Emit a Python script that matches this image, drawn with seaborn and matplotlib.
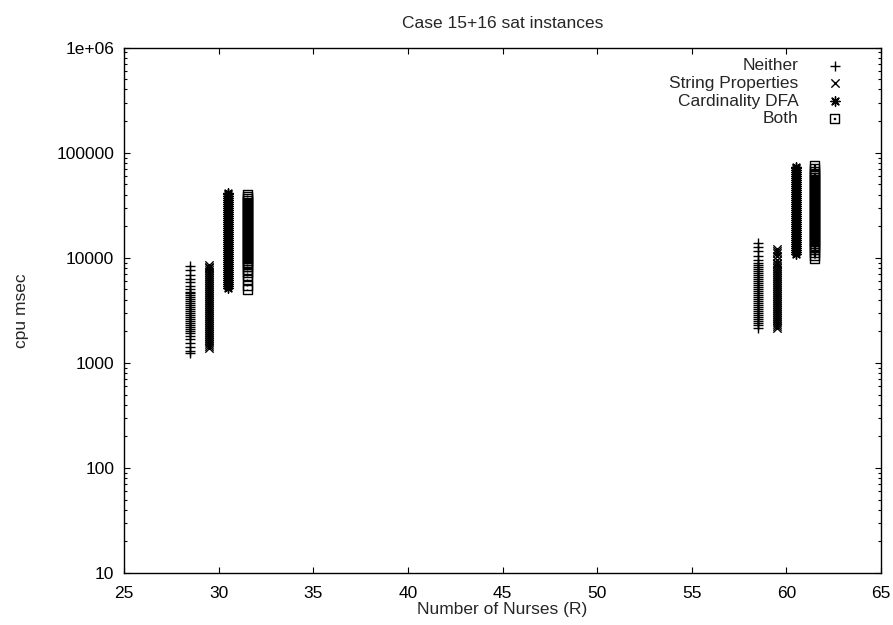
import pandas as pd
import matplotlib
matplotlib.use("Agg")
import matplotlib.pyplot as plt
import matplotlib.ticker as mticker
from matplotlib.path import Path
import seaborn as sns

# cpu msec per run; each method has a low-R and a high-R group
methods = ["Neither", "String Properties", "Cardinality DFA", "Both"]

neither_x = [28.5, 58.5]
neither_y = [
    [1240, 1300, 1420, 1560, 1700, 1820, 1920, 2010, 2100, 2190, 2290, 2390, 2500, 2610, 2730, 2850,
     2980, 3110, 3250, 3400, 3550, 3710, 3880, 4050, 4230, 4420, 4620, 4730, 5000, 5400, 5900, 6300,
     6900, 7600, 8360],
    [2150, 2290, 2390, 2500, 2610, 2730, 2850, 2980, 3110, 3250, 3400, 3550, 3710, 3880, 4050, 4230,
     4420, 4620, 4830, 5050, 5270, 5510, 5760, 6020, 6290, 6570, 6870, 7180, 7500, 7840, 8190, 8560,
     8930, 9600, 10500, 11600, 12800, 13800],
]

string_x = [29.5, 59.5]
string_y = [
    [1390, 1450, 1510, 1580, 1650, 1720, 1800, 1880, 1960, 2050, 2140, 2240, 2340, 2440, 2550, 2660,
     2780, 2900, 3030, 3170, 3310, 3460, 3610, 3770, 3940, 4120, 4300, 4490, 4690, 4900, 5120, 5350,
     5590, 5840, 6100, 6370, 6650, 6950, 7260, 7590, 7930, 8200, 8500],
    [2170, 2250, 2350, 2450, 2560, 2680, 2800, 2920, 3050, 3190, 3330, 3480, 3640, 3800, 3970, 4150,
     4340, 4530, 4740, 4950, 5170, 5400, 5650, 5900, 6170, 6440, 6730, 7040, 7350, 7680, 8030, 8390,
     8770, 8930, 9600, 10300, 11000, 11600, 12100],
]

card_x = [30.5, 60.5]
card_y = [
    [5160, 5400, 5640, 5890, 6150, 6430, 6720, 7020, 7330, 7660, 8000, 8360, 8740, 9130, 9540, 9970,
     10400, 10900, 11400, 11900, 12400, 13000, 13600, 14200, 14800, 15500, 16200, 16900, 17700, 18500,
     19300, 20200, 21100, 22000, 23000, 24000, 25100, 26200, 27400, 28600, 29900, 31200, 32600, 34100,
     35600, 37200, 38900, 40600, 41400],
    [10900, 11400, 11900, 12400, 13000, 13600, 14200, 14800, 15500, 16200, 16900, 17700, 18500, 19300,
     20200, 21100, 22000, 23000, 24000, 25100, 26200, 27400, 28600, 29900, 31200, 32600, 34100, 35600,
     37200, 38900, 40600, 42400, 44300, 46300, 48400, 50600, 52900, 55300, 57800, 60400, 63100, 65900,
     68900, 72000, 73100],
]

both_x = [31.5, 61.5]
both_y = [
    [5000, 5500, 6200, 6800, 7300, 7800, 8200, 8600, 9000, 9400, 9800, 10200, 10700, 11200, 11700,
     12200, 12700, 13300, 13900, 14500, 15200, 15900, 16600, 17300, 18100, 18900, 19800, 20700, 21600,
     22600, 23600, 24700, 25800, 26900, 28100, 29400, 30700, 32100, 33500, 35000, 36600, 38300, 40000],
    [9950, 10500, 11200, 11900, 12500, 13100, 13700, 14300, 15000, 15700, 16400, 17100, 17900, 18700,
     19500, 20400, 21300, 22300, 23300, 24300, 25400, 26500, 27700, 29000, 30300, 31600, 33000, 34500,
     36100, 37700, 39400, 41200, 43000, 45000, 47000, 49100, 51300, 53600, 56000, 58500, 61200, 64000,
     67000, 71000, 75000],
]

ytick_vals = [10, 100, 1000, 10000, 100000, 1000000]
ytick_labels = ["10", "100", "1000", "10000", "100000", "1e+06"]

sns.set_style("ticks")
plt.rcParams["font.family"] = ["Liberation Sans", "DejaVu Sans"]
plt.rcParams["font.size"] = 12.5

rows = []
for name, xs, ys in zip(methods, [neither_x, string_x, card_x, both_x], [neither_y, string_y, card_y, both_y]):
    for x, group in zip(xs, ys):
        for y in group:
            rows.append((x, y, name))
df = pd.DataFrame(rows, columns=["nurses", "cpu", "method"])

# gnuplot-like box with a dot in the middle
box_dot = Path([(-1, -1), (1, -1), (1, 1), (-1, 1), (-1, -1),
                (-0.1, -0.1), (0.1, -0.1), (0.1, 0.1), (-0.1, 0.1), (-0.1, -0.1)],
               [Path.MOVETO, Path.LINETO, Path.LINETO, Path.LINETO, Path.CLOSEPOLY,
                Path.MOVETO, Path.LINETO, Path.LINETO, Path.LINETO, Path.CLOSEPOLY])

fig = plt.figure(figsize=(8.93, 6.25), dpi=100)
ax = fig.add_axes([0.1389, 0.0832, 0.8477, 0.8405])

styles = {
    "Neither": dict(marker="+", color="black", linewidths=1.0, s=46),
    "String Properties": dict(marker="x", color="black", linewidths=1.0, s=36),
    "Cardinality DFA": dict(marker=(8, 2, 0), color="black", linewidths=1.0, s=46),
    "Both": dict(marker=box_dot, facecolors="none", edgecolors="black", linewidths=1.0, s=42),
}
for m in methods:
    sns.scatterplot(data=df[df["method"] == m], x="nurses", y="cpu", ax=ax, label=m, **styles[m])

ax.set_yscale("log")
ax.set_xlim(25, 65)
ax.set_ylim(10, 1e6)
ax.set_xticks(range(25, 66, 5))
ax.set_yticks(ytick_vals)
ax.yaxis.set_major_formatter(mticker.FixedFormatter(ytick_labels))
ax.yaxis.set_minor_locator(mticker.LogLocator(base=10, subs=range(2, 10)))
ax.yaxis.set_minor_formatter(mticker.NullFormatter())
ax.tick_params(which="both", direction="in", top=True, right=True, width=0.8, colors="black")
ax.tick_params(which="major", length=4.5)
ax.tick_params(which="minor", length=2.2)
ax.tick_params(axis="x", pad=9)
ax.tick_params(axis="y", pad=7)
for sp in ax.spines.values():
    sp.set_linewidth(1.0)
    sp.set_color("black")

ax.set_title("Case 15+16 sat instances", pad=14, fontsize=12.5)
ax.set_xlabel("Number of Nurses (R)", labelpad=1)
ax.set_ylabel("cpu msec", labelpad=20)

ax.legend(loc="upper right", bbox_to_anchor=(0.962, 0.980), frameon=False, markerfirst=False,
          borderpad=0, borderaxespad=0, handletextpad=1.1, handlelength=2, labelspacing=0.14)

fig.savefig("out.png", dpi=100)
